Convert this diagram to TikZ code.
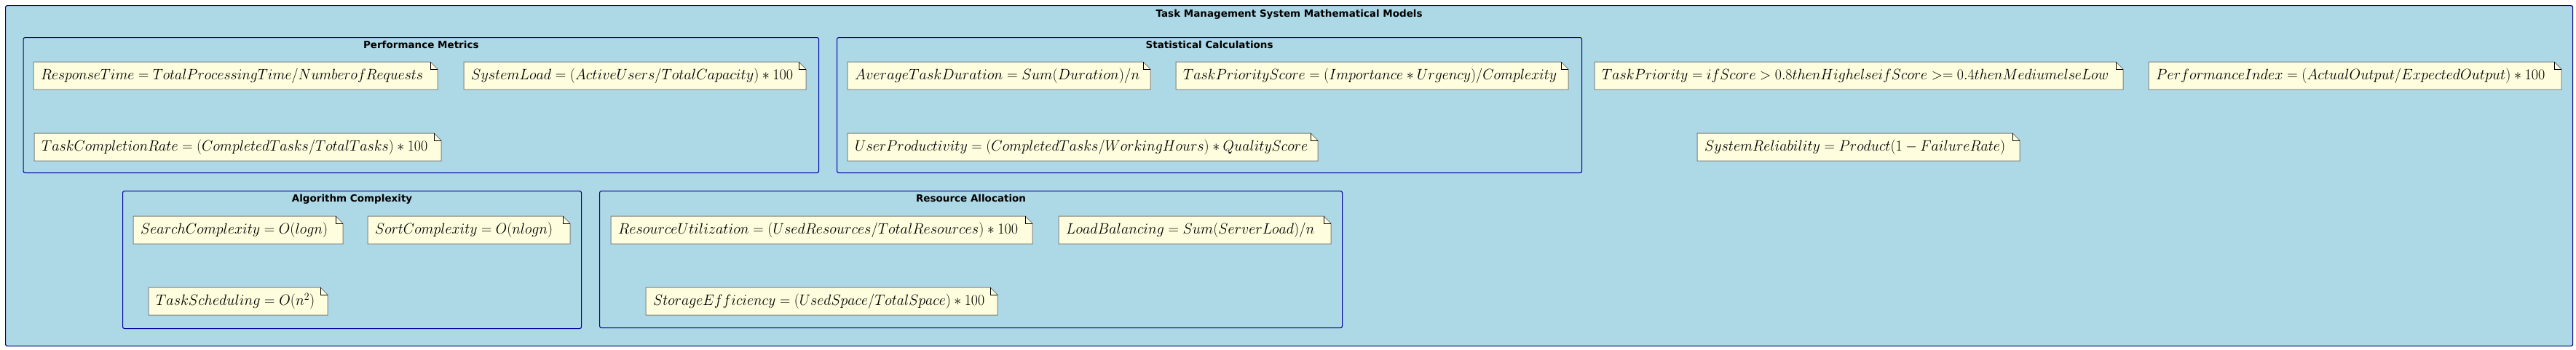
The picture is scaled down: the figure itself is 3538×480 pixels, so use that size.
\documentclass[tikz,border=0pt]{standalone}
\usepackage{fontspec}
\usepackage{graphicx}
\usetikzlibrary{positioning}
\newfontfamily\headfont{DejaVu Sans}
\definecolor{panelblue}{RGB}{173,216,230}
\definecolor{frameblue}{RGB}{0,0,160}
\definecolor{outernavy}{RGB}{0,0,128}
\definecolor{noteyellow}{RGB}{254,254,222}
\definecolor{notegray}{RGB}{128,128,128}
\pgfdeclarelayer{bg}
\pgfsetlayers{bg,main}
% name, x, y, width, text width, formula
\newcommand{\mnote}[6]{%
  \node[notetext] (#1) at (#2+10,#3+19) {\resizebox{#5pt}{\height}{$#6$}};
  \begin{pgfonlayer}{bg}
    \filldraw[notebox] (#2,#3) -- (#2+#4-10,#3) -- (#2+#4,#3+10) -- (#2+#4,#3+38) -- (#2,#3+38) -- cycle;
    \draw[notefold] (#2+#4-10,#3) -- (#2+#4-10,#3+10) -- (#2+#4,#3+10);
  \end{pgfonlayer}}
\begin{document}
\begin{tikzpicture}[x=1pt,y=-1pt]
                \tikzstyle{every node}+=[inner sep=0pt]
                \tikzstyle{outerbox}=[draw=outernavy, fill=panelblue, line width=1.2pt, rounded corners=2.5pt, anchor=north west]
                \tikzstyle{groupbox}=[draw=frameblue, line width=1.1pt, rounded corners=2.5pt, anchor=north west]
                \tikzstyle{grouptitle}=[font=\headfont\bfseries\fontsize{13.5}{16}\selectfont, text height=10pt, text depth=3pt]
                \tikzstyle{notetext}=[anchor=west, font=\fontsize{20.74}{25}\selectfont]
                \tikzstyle{notebox}=[draw=notegray, fill=noteyellow, line width=1pt]
                \tikzstyle{notefold}=[draw=black, line width=1pt]
                \useasboundingbox (0,0) rectangle (3538,480);
                \begin{pgfonlayer}{bg}
                \node[outerbox, minimum width=3526pt, minimum height=468pt] (models) at (7,7) {};
                \end{pgfonlayer}
                \node[grouptitle, below=6pt of models.north] (modelstitle) {Task Management System Mathematical Models};
                \node[groupbox, minimum width=1092.5pt, minimum height=186pt] (perf) at (31.5,51) {};
                \node[grouptitle, below=5pt of perf.north] (perftitle) {Performance Metrics};
                \node[groupbox, minimum width=1023pt, minimum height=186pt] (stat) at (1149,51) {};
                \node[grouptitle, below=5pt of stat.north] (stattitle) {Statistical Calculations};
                \node[groupbox, minimum width=630pt, minimum height=189pt] (algo) at (168,262) {};
                \node[grouptitle, below=5pt of algo.north] (algotitle) {Algorithm Complexity};
                \node[groupbox, minimum width=1020pt, minimum height=188pt] (res) at (823,262) {};
                \node[grouptitle, below=5pt of res.north] (restitle) {Resource Allocation};
                \mnote{resptime}{46}{85}{555}{525}{ResponseTime = TotalProcessingTime/NumberofRequests}
                \mnote{sysload}{637}{85}{470}{442}{SystemLoad = (ActiveUsers/TotalCapacity) * 100}
                \mnote{complrate}{47}{183}{559}{530}{TaskCompletionRate = (CompletedTasks/TotalTasks) * 100}
                \mnote{avgdur}{1164}{85}{416}{391}{AverageTaskDuration = Sum(Duration)/n}
                \mnote{prioscore}{1615}{85}{539}{513}{TaskPriorityScore = (Importance * Urgency)/Complexity}
                \mnote{userprod}{1164}{183}{646}{622}{UserProductivity = (CompletedTasks/WorkingHours) * QualityScore}
                \mnote{taskprio}{2190}{85}{726}{696}{TaskPriority = ifScore > 0.8thenHighelseifScore >= 0.4thenMediumelseLow}
                \mnote{perfindex}{2951}{85}{567}{534}{PerformanceIndex = (ActualOutput/ExpectedOutput) * 100}
                \mnote{sysrel}{2331}{183}{443}{413}{SystemReliability = Product(1 - FailureRate)}
                \mnote{searchc}{183}{297}{288}{257}{SearchComplexity = O(logn)}
                \mnote{sortc}{505}{297}{278}{244}{SortComplexity = O(nlogn)}
                \mnote{tasksched}{204}{395}{246}{218}{TaskScheduling = O(n^2)}
                \mnote{resutil}{839}{297}{579}{549}{ResourceUtilization = (UsedResources/TotalResources) * 100}
                \mnote{loadbal}{1454}{297}{374}{341}{LoadBalancing = Sum(ServerLoad)/n}
                \mnote{storeff}{887}{395}{483}{455}{StorageEfficiency = (UsedSpace/TotalSpace) * 100}
            \end{tikzpicture}
\end{document}
